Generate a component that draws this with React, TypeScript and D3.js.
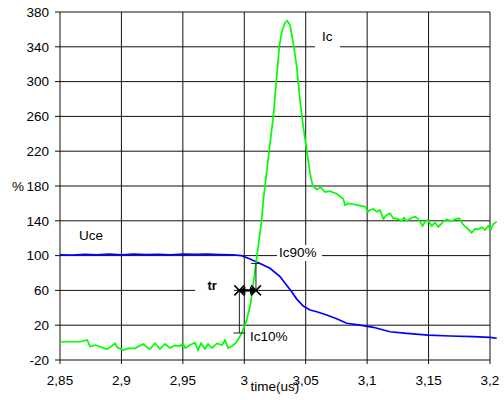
import React from "react";
import * as d3 from "d3";

// ---- data ----
const uceTime = [2.85, 2.86, 2.87, 2.88, 2.89, 2.9, 2.91, 2.92, 2.93, 2.94, 2.95, 2.96, 2.97, 2.98, 2.99, 2.9979, 3.0047, 3.0128, 3.0209, 3.0291, 3.0345, 3.0386, 3.0427, 3.048, 3.0535, 3.059, 3.0671, 3.0752, 3.0834, 3.0942, 3.105, 3.1186, 3.1322, 3.1498, 3.1675, 3.1864, 3.2, 3.2055];
const uceValue = [101, 100.5, 101.5, 100.8, 101.6, 100.9, 101.7, 101.2, 101.5, 101, 101.8, 101.3, 101.6, 101.2, 101, 99.9, 96, 91, 85.4, 76, 66, 58.5, 50, 42, 37.5, 35.5, 31.7, 27.5, 22.2, 20, 17.6, 12.5, 10.7, 8.7, 7.6, 6.8, 6.1, 5];

const icTime = [2.85, 2.8663, 2.8722, 2.8744, 2.8785, 2.8826, 2.888, 2.8907, 2.8948, 2.8966, 2.9015, 2.9056, 2.911, 2.9178, 2.9219, 2.9233, 2.9273, 2.9314, 2.9355, 2.9395, 2.9436, 2.9477, 2.9501, 2.952, 2.9558, 2.9599, 2.9623, 2.9648, 2.968, 2.9705, 2.9737, 2.9778, 2.9819, 2.9843, 2.9868, 2.99, 2.9933, 2.9957, 2.9979, 3.002, 3.0052, 3.0095, 3.0142, 3.0155, 3.0236, 3.0285, 3.0305, 3.0331, 3.035, 3.0372, 3.0399, 3.0427, 3.0453, 3.048, 3.0508, 3.0535, 3.0557, 3.059, 3.0622, 3.0657, 3.0698, 3.0752, 3.0806, 3.082, 3.0847, 3.0887, 3.0942, 3.0983, 3.1007, 3.1023, 3.105, 3.1078, 3.1105, 3.1132, 3.1159, 3.1186, 3.1213, 3.1254, 3.1281, 3.13, 3.1322, 3.1363, 3.139, 3.1417, 3.1452, 3.1471, 3.1493, 3.1526, 3.1552, 3.1579, 3.162, 3.1648, 3.1688, 3.1715, 3.175, 3.1778, 3.1815, 3.1851, 3.1878, 3.1905, 3.1933, 3.1959, 3.1986, 3.2006, 3.2027, 3.2055];
const icValue = [1, 1, 3, -4.7, -2.8, -4.7, -7.4, -5.4, -0.8, -5.4, -8.5, -6.6, -6.6, -1.6, -6.6, -7.4, -0.8, -7.4, -1.6, -6.2, -3.1, -3.9, -0.8, -6.2, -2.8, -0.1, -8.5, -0.8, -7.4, -1.6, -6.2, -1, -2.8, 3, -6.2, -3.9, -0.5, 5.3, 10.7, 26, 45.5, 91, 141, 164, 259.7, 340, 357, 367.7, 370, 365, 344, 317, 279, 248, 221, 195, 180, 176, 178.5, 173, 174, 171, 165, 158, 160, 159, 157.4, 156.2, 150.5, 152.4, 153.6, 150.5, 152.4, 142, 146.7, 148.6, 143, 142, 139.8, 143.6, 139.8, 143.6, 144.7, 142, 134, 139, 141, 134, 138, 133, 139, 141.7, 139.8, 141.7, 142.9, 136.3, 131.4, 126.3, 130.6, 130.2, 132.5, 129.4, 134, 130, 136.3, 139];

const xTicks = [2.85, 2.9, 2.95, 3.0, 3.05, 3.1, 3.15, 3.2];
const yTicks = [-20, 20, 60, 100, 140, 180, 220, 260, 300, 340, 380];

// annotation values (rise time markers)
const trStart = 2.996;
const trEnd = 3.0095;
const ic10 = 11;
const ic90 = 91;
const trLevel = 60;

const FONT = "'Liberation Sans', Arial, sans-serif";

export default function App() {
  const x = d3.scaleLinear().domain([2.85, 3.2]).range([60, 490]);
  const y = d3.scaleLinear().domain([-20, 380]).range([360, 12]);

  const uceData = uceTime.map((t, i) => [t, uceValue[i]] as [number, number]);
  const icData = icTime.map((t, i) => [t, icValue[i]] as [number, number]);
  const line = d3
    .line<[number, number]>()
    .x((d) => x(d[0]))
    .y((d) => y(d[1]));

  const fmt = (v: number) => String(+v.toFixed(2)).replace(".", ",");

  const xs = x(trStart);
  const xe = x(trEnd);
  const yl = y(trLevel);

  const cross = (cx: number, cy: number) => (
    <g stroke="#000" strokeWidth={1.5}>
      <line x1={cx - 5} y1={cy - 5} x2={cx + 5} y2={cy + 5} />
      <line x1={cx - 5} y1={cy + 5} x2={cx + 5} y2={cy - 5} />
    </g>
  );

  return (
    <svg
      width={504}
      height={400}
      style={{ position: "absolute", left: 0, top: 0, background: "#fff" }}
      fontFamily={FONT}
    >
      <rect x={0} y={0} width={504} height={400} fill="#fff" />
      {/* grid */}
      <g stroke="#111" strokeWidth={1}>
        {yTicks.map((v) => (
          <line key={"h" + v} x1={x(2.85)} x2={x(3.2)} y1={y(v)} y2={y(v)} />
        ))}
        {xTicks.map((v) => (
          <line key={"v" + v} x1={x(v)} x2={x(v)} y1={y(380)} y2={y(-20)} />
        ))}
        {/* ticks */}
        {yTicks.map((v) => (
          <line key={"ty" + v} x1={x(2.85) - 5} x2={x(2.85)} y1={y(v)} y2={y(v)} />
        ))}
        {xTicks.map((v) => (
          <line key={"tx" + v} x1={x(v)} x2={x(v)} y1={y(-20)} y2={y(-20) + 4} />
        ))}
      </g>
      {/* tick labels */}
      <g fontSize={13.5} fill="#000">
        {yTicks.map((v) => (
          <text key={"ly" + v} x={49} y={y(v)} dy="0.35em" textAnchor="end">
            {String(v)}
          </text>
        ))}
        <text x={24} y={y(180)} dy="0.35em" textAnchor="end">%</text>
        {xTicks.map((v) => (
          <text key={"lx" + v} x={x(v)} y={385} textAnchor="middle">
            {fmt(v)}
          </text>
        ))}
        <text x={250.5} y={391}>time(us)</text>
      </g>

      {/* label boxes */}
      <rect x={315} y={28} width={25} height={22} fill="#fff" />
      <rect x={277} y={245} width={45} height={16} fill="#fff" />
      <rect x={195} y={279} width={39} height={18} fill="#fff" />

      {/* series */}
      <path d={line(uceData) || ""} fill="none" stroke="#0000ff" strokeWidth={1.7} />
      <path d={line(icData) || ""} fill="none" stroke="#00ff00" strokeWidth={1.7} />

      {/* annotations */}
      <g fontSize={13.5} fill="#000">
        <text x={322} y={41}>Ic</text>
        <text x={79} y={240}>Uce</text>
        <text x={279} y={257}>Ic90%</text>
        <text x={250} y={341}>Ic10%</text>
        <text x={207.5} y={289.5} fontWeight="bold" fontSize={13}>tr</text>
      </g>
      <g stroke="#222" strokeWidth={1}>
        <line x1={xs} x2={xs} y1={yl} y2={y(ic10)} />
        <line x1={xs - 6} x2={xs + 6} y1={y(ic10)} y2={y(ic10)} />
        <line x1={xe} x2={xe} y1={y(ic90)} y2={yl} />
        <line x1={xe - 5} x2={xe + 5} y1={y(ic90)} y2={y(ic90)} />
      </g>
      <g>
        <line x1={xs + 4} x2={xe - 4} y1={yl} y2={yl} stroke="#000" strokeWidth={2.5} />
        <path d={`M${xs},${yl} l6,-4 l0,8 z`} fill="#000" />
        <path d={`M${xe},${yl} l-6,-4 l0,8 z`} fill="#000" />
        {cross(xs, yl)}
        {cross(xe, yl)}
      </g>
    </svg>
  );
}
